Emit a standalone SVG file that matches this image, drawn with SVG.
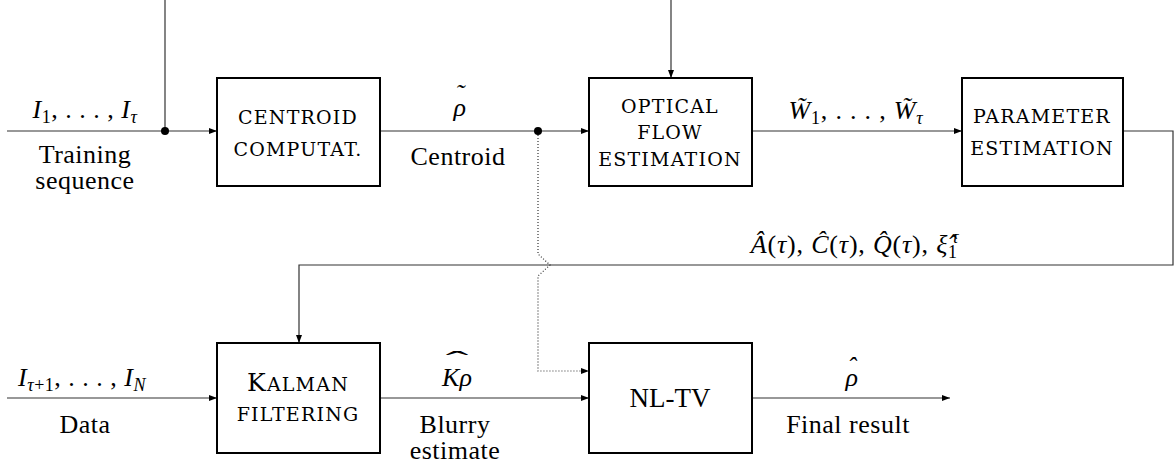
<svg xmlns="http://www.w3.org/2000/svg" width="1175" height="467" viewBox="0 0 1175 467">
<style>
.lab{font-family:"Liberation Serif",serif;font-size:26px;text-anchor:middle;fill:#000}
.sc{font-family:"DejaVu Serif",serif;font-size:19px;letter-spacing:1.2px;text-anchor:middle;fill:#000}
.st{text-anchor:start}
.i{font-style:italic}
.sub{font-size:18px}
.box{fill:#fff;stroke:#000;stroke-width:2}
.ln{fill:none;stroke:#333;stroke-width:1.2}
.dt{stroke-dasharray:1 2}
</style>
<defs>
<marker id="ar" markerWidth="9" markerHeight="7" refX="8" refY="3" orient="auto" markerUnits="userSpaceOnUse">
<path d="M0,0 L8,3 L0,6 z" fill="#000"/>
</marker>
</defs>
<g id="connectors">
<path class="ln" d="M7,131 H217" marker-end="url(#ar)"/>
<path class="ln" d="M165,0 V131"/>
<circle cx="165" cy="131" r="4" fill="#000"/>
<path class="ln" d="M380,131 H589" marker-end="url(#ar)"/>
<circle cx="538" cy="131" r="4" fill="#000"/>
<path class="ln" d="M671,0 V78" marker-end="url(#ar)"/>
<path class="ln" d="M752,131 H962" marker-end="url(#ar)"/>
<path class="ln" d="M1123,131 H1173 V265 H299 V343" marker-end="url(#ar)"/>
<path class="ln dt" d="M538,135 V254 L550,265 L538,276 V371 H589" marker-end="url(#ar)"/>
<path class="ln" d="M7,398 H217" marker-end="url(#ar)"/>
<path class="ln" d="M380,398 H589" marker-end="url(#ar)"/>
<path class="ln" d="M752,398 H950" marker-end="url(#ar)"/>
</g>
<g id="centroid">
<rect class="box" x="217" y="78" width="163" height="108"/>
<text class="sc" x="298" y="124">CENTROID</text>
<text class="sc" x="298" y="156">COMPUTAT.</text>
</g>
<g id="optical">
<rect class="box" x="589" y="78" width="163" height="108"/>
<text class="sc" x="670" y="113">OPTICAL</text>
<text class="sc" x="670" y="139">FLOW</text>
<text class="sc" x="670" y="166">ESTIMATION</text>
</g>
<g id="parameter">
<rect class="box" x="962" y="78" width="161" height="108"/>
<text class="sc" x="1042" y="123">PARAMETER</text>
<text class="sc" x="1042" y="155">ESTIMATION</text>
</g>
<g id="kalman">
<rect class="box" x="217" y="343" width="163" height="110"/>
<text class="sc" x="298" y="391"><tspan font-size="25px">K</tspan>ALMAN</text>
<text class="sc" x="298" y="421">FILTERING</text>
</g>
<g id="nltv">
<rect class="box" x="589" y="343" width="163" height="110"/>
<text class="lab" x="670" y="407" style="font-size:27px">NL-TV</text>
</g>
<g id="labels">
<text class="lab" x="85" y="118" letter-spacing="0.5"><tspan class="i">I</tspan><tspan class="sub" dy="5">1</tspan><tspan dy="-5">, . . . , </tspan><tspan class="i">I</tspan><tspan class="sub i" dy="5">τ</tspan></text>
<text class="lab" x="85" y="163" letter-spacing="0.5">Training</text>
<text class="lab" x="85" y="189" letter-spacing="0.5">sequence</text>
<text class="lab st i" x="453.5" y="116">ρ<tspan dx="-10.5" dy="-14">˜</tspan></text>
<text class="lab" x="458" y="165" letter-spacing="0.5">Centroid</text>
<text class="lab" x="856" y="119" letter-spacing="0.8"><tspan class="i">W̃</tspan><tspan class="sub" dy="5">1</tspan><tspan dy="-5">, . . . , </tspan><tspan class="i">W̃</tspan><tspan class="sub i" dy="5">τ</tspan></text>
<text class="lab" x="855" y="253" letter-spacing="0.8"><tspan class="i">Â</tspan>(<tspan class="i">τ</tspan>), <tspan class="i">Ĉ</tspan>(<tspan class="i">τ</tspan>), <tspan class="i">Q̂</tspan>(<tspan class="i">τ</tspan>), <tspan class="i">ξ̂</tspan><tspan class="sub" dy="5">1</tspan><tspan class="sub i" dx="-6" dy="-15">τ</tspan></text>
<text class="lab" x="82" y="386" letter-spacing="0.5"><tspan class="i">I</tspan><tspan class="sub" dy="5"><tspan class="i">τ</tspan>+1</tspan><tspan dy="-5">, . . . , </tspan><tspan class="i">I</tspan><tspan class="sub i" dy="5">N</tspan></text>
<text class="lab" x="85" y="433" letter-spacing="0.5">Data</text>
<text class="lab i" x="457" y="386">Kρ</text>
<text class="lab" transform="translate(457,369) scale(2.6,1)">ˆ</text>
<text class="lab" x="455" y="433" letter-spacing="0.5">Blurry</text>
<text class="lab" x="455" y="459" letter-spacing="0.5">estimate</text>
<text class="lab st i" x="845.5" y="386">ρ<tspan dx="-10.5" dy="-11">ˆ</tspan></text>
<text class="lab" x="848" y="433" letter-spacing="0.5">Final result</text>
</g>
</svg>
